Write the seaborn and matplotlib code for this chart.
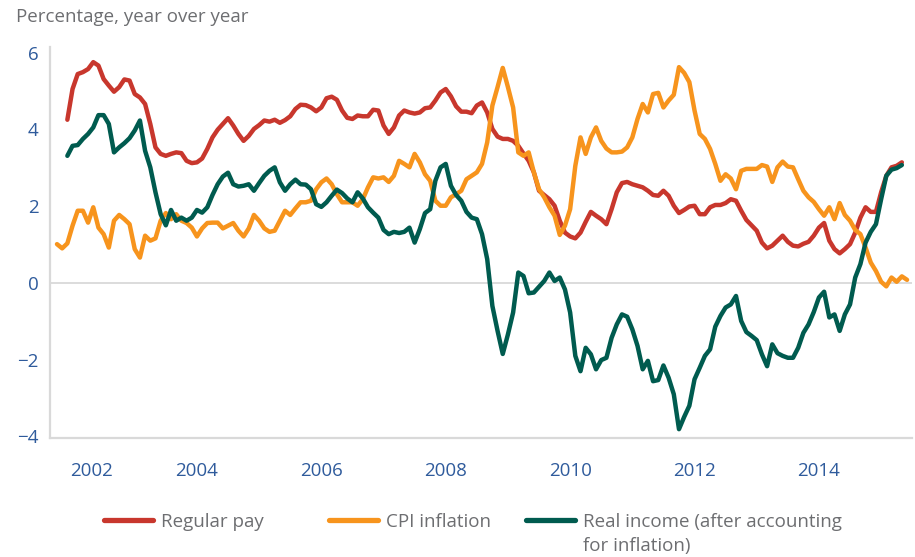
import numpy as np
import pandas as pd
import seaborn as sns
import matplotlib.pyplot as plt

# monthly series, first month = Oct 2001
start_year = 2001.75

cpi_inflation = [
    1.01, 0.90, 1.03, 1.49, 1.88, 1.88, 1.57, 1.97, 1.44, 1.27,
    0.92, 1.62, 1.77, 1.66, 1.53, 0.88, 0.66, 1.23, 1.10, 1.16,
    1.62, 1.82, 1.66, 1.79, 1.62, 1.56, 1.44, 1.21, 1.42, 1.56,
    1.57, 1.57, 1.42, 1.49, 1.56, 1.36, 1.21, 1.42, 1.77, 1.62,
    1.42, 1.33, 1.36, 1.62, 1.88, 1.77, 1.94, 2.10, 2.10, 2.14,
    2.44, 2.62, 2.72, 2.57, 2.31, 2.10, 2.10, 2.10, 2.01, 2.18,
    2.49, 2.75, 2.72, 2.75, 2.63, 2.79, 3.18, 3.10, 3.01, 3.36,
    3.14, 2.83, 2.66, 2.14, 2.01, 2.01, 2.23, 2.31, 2.40, 2.70,
    2.79, 2.88, 3.10, 3.66, 4.62, 5.10, 5.60, 5.10, 4.57, 3.40,
    3.31, 3.40, 2.88, 2.44, 2.23, 1.97, 1.75, 1.25, 1.49, 1.92,
    3.05, 3.79, 3.36, 3.79, 4.05, 3.70, 3.50, 3.40, 3.40, 3.42,
    3.53, 3.79, 4.27, 4.66, 4.44, 4.92, 4.95, 4.57, 4.75, 4.90,
    5.62, 5.47, 5.23, 4.49, 3.88, 3.75, 3.49, 3.10, 2.66, 2.83,
    2.72, 2.44, 2.92, 2.97, 2.97, 2.97, 3.07, 3.03, 2.63, 3.01,
    3.16, 3.03, 3.01, 2.70, 2.40, 2.23, 2.11, 1.92, 1.75, 1.97,
    1.66, 2.08, 1.77, 1.62, 1.38, 1.27, 0.92, 0.53, 0.31, 0.03,
    -0.09, 0.14, 0.03, 0.17, 0.08,
]

regular_pay = [
    None, None, 4.25, 5.05, 5.44, 5.49, 5.57, 5.75, 5.66, 5.31,
    5.14, 4.98, 5.10, 5.30, 5.27, 4.92, 4.83, 4.66, 4.14, 3.53,
    3.36, 3.31, 3.36, 3.40, 3.38, 3.18, 3.12, 3.14, 3.24, 3.49,
    3.79, 3.99, 4.14, 4.29, 4.10, 3.88, 3.70, 3.83, 4.01, 4.11,
    4.23, 4.20, 4.25, 4.17, 4.24, 4.34, 4.53, 4.64, 4.63, 4.57,
    4.47, 4.57, 4.81, 4.85, 4.77, 4.49, 4.30, 4.27, 4.36, 4.34,
    4.34, 4.51, 4.49, 4.10, 3.88, 4.05, 4.36, 4.49, 4.44, 4.41,
    4.44, 4.55, 4.57, 4.75, 4.96, 5.05, 4.86, 4.60, 4.46, 4.46,
    4.42, 4.62, 4.70, 4.44, 4.01, 3.81, 3.75, 3.75, 3.70, 3.57,
    3.37, 3.18, 2.88, 2.40, 2.29, 2.18, 2.01, 1.62, 1.31, 1.21,
    1.16, 1.31, 1.59, 1.85, 1.75, 1.66, 1.53, 1.92, 2.36, 2.60,
    2.63, 2.57, 2.53, 2.49, 2.40, 2.29, 2.27, 2.40, 2.27, 2.01,
    1.82, 1.90, 1.99, 2.01, 1.79, 1.79, 1.97, 2.03, 2.03, 2.08,
    2.18, 2.14, 1.88, 1.64, 1.50, 1.36, 1.05, 0.90, 0.97, 1.10,
    1.23, 1.07, 0.97, 0.95, 1.02, 1.07, 1.23, 1.44, 1.56, 1.10,
    0.88, 0.77, 0.88, 1.01, 1.31, 1.70, 1.97, 1.85, 1.85, 2.36,
    2.79, 3.01, 3.05, 3.14, None,
]

real_income = [
    None, None, 3.31, 3.57, 3.59, 3.75, 3.88, 4.05, 4.37, 4.37,
    4.14, 3.40, 3.53, 3.64, 3.77, 3.97, 4.23, 3.44, 3.01, 2.36,
    1.79, 1.50, 1.90, 1.62, 1.70, 1.62, 1.70, 1.90, 1.83, 1.97,
    2.29, 2.57, 2.77, 2.87, 2.57, 2.51, 2.53, 2.57, 2.40, 2.60,
    2.79, 2.92, 3.01, 2.62, 2.40, 2.57, 2.69, 2.57, 2.56, 2.44,
    2.05, 1.98, 2.10, 2.27, 2.43, 2.34, 2.20, 2.10, 2.36, 2.20,
    1.97, 1.83, 1.70, 1.38, 1.27, 1.33, 1.30, 1.33, 1.44, 1.05,
    1.40, 1.82, 1.92, 2.66, 3.01, 3.10, 2.53, 2.29, 2.14, 1.85,
    1.70, 1.66, 1.27, 0.62, -0.60, -1.25, -1.85, -1.34, -0.77, 0.27,
    0.18, -0.27, -0.25, -0.10, 0.05, 0.27, 0.05, 0.14, -0.17, -0.77,
    -1.90, -2.30, -1.69, -1.86, -2.25, -2.01, -1.95, -1.43, -1.08, -0.82,
    -0.88, -1.21, -1.64, -2.25, -2.03, -2.56, -2.53, -2.15, -2.47, -2.90,
    -3.81, -3.49, -3.20, -2.51, -2.21, -1.90, -1.73, -1.14, -0.86, -0.64,
    -0.56, -0.34, -0.99, -1.28, -1.38, -1.49, -1.86, -2.17, -1.60, -1.83,
    -1.90, -1.95, -1.95, -1.69, -1.30, -1.08, -0.76, -0.38, -0.23, -0.90,
    -0.82, -1.25, -0.82, -0.56, 0.14, 0.49, 1.05, 1.33, 1.53, 2.18,
    2.79, 2.95, 2.99, 3.07, None,
]

series_names = ["Regular pay", "CPI inflation", "Real income (after accounting"]
series_extra_line = "for inflation)"
series_colors = ["#c8372d", "#f7941d", "#005b4f"]

tick_positions = [2002.31, 2004, 2006, 2008, 2010, 2012, 2014]
tick_labels = ["2002", "2004", "2006", "2008", "2010", "2012", "2014"]
y_ticks = [-4, -2, 0, 2, 4, 6]

# build long table for seaborn
year = start_year + np.arange(len(cpi_inflation)) / 12
wide = pd.DataFrame({
    "year": year,
    series_names[0]: pd.array(regular_pay, dtype="Float64"),
    series_names[1]: pd.array(cpi_inflation, dtype="Float64"),
    series_names[2]: pd.array(real_income, dtype="Float64"),
})
df = wide.melt(id_vars="year", var_name="series", value_name="value").dropna()
df["value"] = df["value"].astype(float)

sns.set_theme(style="white")
plt.rcParams["font.family"] = ["Open Sans", "DejaVu Sans"]

tick_color = "#2f5b9c"
text_color = "#6d6e71"
line_grey = "#d9d9d9"

fig = plt.figure(figsize=(9.15, 5.57), dpi=100)
ax = fig.add_axes([0.0546, 0.2136, 0.9421, 0.7024])

ax.axhline(0, color=line_grey, lw=1.3, zorder=0)
sns.lineplot(data=df, x="year", y="value", hue="series", hue_order=series_names,
             palette=dict(zip(series_names, series_colors)), linewidth=3.2,
             ax=ax, legend=True)

ax.set_xlim(2001.637, 2015.496)
ax.set_ylim(-4.04, 6.15)
ax.set_xticks(tick_positions)
ax.set_xticklabels(tick_labels)
ax.set_yticks(y_ticks)
ax.set_xlabel("")
ax.set_ylabel("")
ax.tick_params(axis="both", length=0, labelsize=13.5, labelcolor=tick_color)
ax.tick_params(axis="x", pad=17)
ax.tick_params(axis="y", pad=8)

for side in ["top", "right"]:
    ax.spines[side].set_visible(False)
for side in ["left", "bottom"]:
    ax.spines[side].set_color(line_grey)
    ax.spines[side].set_linewidth(1.6)

# legend: one entry each, spaced like the original
handles, labels = ax.get_legend_handles_labels()
ax.get_legend().remove()
legend_x = [0.1137, 0.3595, 0.575]
legends = []
for h, lab, lx in zip(handles, labels, legend_x):
    leg = fig.legend([h], [lab], loc="upper left", bbox_to_anchor=(lx, 0.0798),
                     frameon=False, fontsize=13.5, handlelength=2.6,
                     handletextpad=0.45, borderpad=0, borderaxespad=0)
    leg.get_texts()[0].set_color(text_color)
    for line in leg.get_lines():
        line.set_linewidth(3.8)
        line.set_solid_capstyle("round")
    legends.append(leg)

fig.canvas.draw()
bb = legends[2].get_texts()[0].get_window_extent()
fig.text(bb.x0 / fig.bbox.width, ((bb.y0 + bb.y1) / 2 - 24) / fig.bbox.height,
         series_extra_line, fontsize=13.5, color=text_color, va="center", ha="left")

fig.text(0.0175, 1 - 17 / 557, "Percentage, year over year", fontsize=13.5,
         color=text_color, va="center", ha="left")

fig.savefig("out.png", dpi=100)
